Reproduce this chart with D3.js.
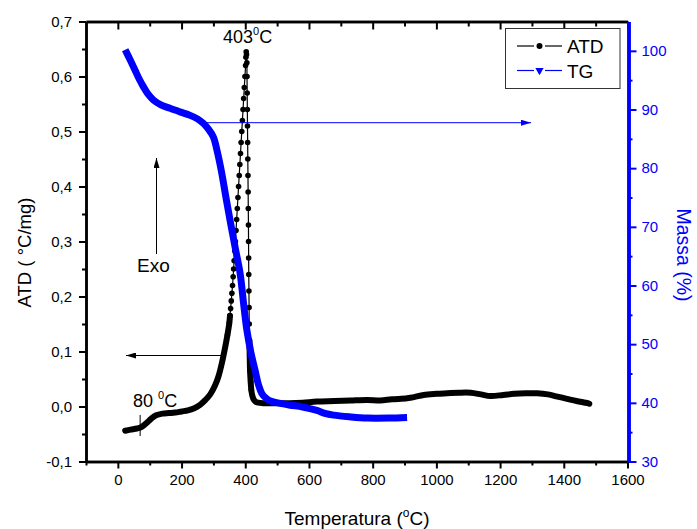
<!DOCTYPE html>
<html><head><meta charset="utf-8">
<script src="https://cdn.jsdelivr.net/npm/d3@7"></script>
<style>
body{margin:0;background:#fff;}
svg{display:block;font-family:"Liberation Sans",Arial,sans-serif;}
</style></head>
<body>
<svg id="c" width="697" height="529"></svg>
<script>
// ATD data (°C/mg) vs temperature
const atdT = [23,40,60,75,90,105,120,140,160,180,200,220,240,258,275,290,305,316,327,337,344,
  350,352,354,356,358,360,362,363.5,365,367,369,371,373,375,377,379,381,383,385,387,389,391,393,395,397,399,401,402,403,
  404,405,405.5,406,406.5,407,407.5,408,408.5,409,409.5,410,410.3,410.6,411,411.5,412,412.5,413,414,415,417,419,422,426,432,440,
  460,500,540,580,625,680,730,783,824,860,908,930,960,1000,1034,1070,1108,1140,1170,1210,1244,1280,1317,1350,1380,1410,1440,1475,1480];
const atdV = [-0.044,-0.042,-0.040,-0.037,-0.030,-0.022,-0.016,-0.013,-0.012,-0.011,-0.009,-0.007,-0.003,0.003,0.012,0.022,0.038,0.055,0.080,0.108,0.130,
  0.152,0.165,0.178,0.192,0.206,0.220,0.236,0.250,0.265,0.283,0.300,0.320,0.340,0.360,0.380,0.400,0.420,0.440,0.460,0.480,0.500,0.520,0.540,0.560,0.580,0.600,0.620,0.635,0.645,
  0.640,0.625,0.600,0.570,0.540,0.510,0.480,0.450,0.420,0.390,0.360,0.330,0.300,0.270,0.240,0.210,0.180,0.150,0.120,0.090,0.065,0.045,0.030,0.020,0.013,0.009,0.007,
  0.006,0.006,0.006,0.007,0.009,0.010,0.011,0.012,0.011,0.013,0.015,0.017,0.021,0.023,0.024,0.025,0.025,0.022,0.019,0.021,0.023,0.024,0.024,0.022,0.018,0.014,0.010,0.006,0.005];

// TG data (mass %) vs temperature
const tgT = [23,40,54,67,80,95,112,135,164,195,227,250,269,285,300,311,325,340,355,370,384,395,405,418,431,442,452,465,479,510,541,580,625,650,677,730,783,850,908];
const tgV = [100.2,98.3,96.7,95.2,93.9,92.6,91.6,90.8,90.2,89.6,89.0,88.4,87.6,86.6,85.3,83.1,79.5,74.8,70.3,66.0,62.0,56.8,52.4,48.5,45.5,43.0,41.6,40.8,40.3,39.9,39.6,39.3,38.7,38.2,37.9,37.6,37.4,37.4,37.5];

const xTicks = [0,200,400,600,800,1000,1200,1400,1600];
const xMinor = [-100,100,300,500,700,900,1100,1300,1500];
const yLTicks = [-0.1,0,0.1,0.2,0.3,0.4,0.5,0.6,0.7];
const yLMinor = [-0.05,0.05,0.15,0.25,0.35,0.45,0.55,0.65];
const yRTicks = [30,40,50,60,70,80,90,100];
const yRMinor = [35,45,55,65,75,85,95];

const seriesNames = ["ATD","TG"];
const BLUE = "#0000ff";

const svg = d3.select("#c");
const L=86, R=627.5, T=21.5, B=461.5;
const x = d3.scaleLinear([-100,1600],[L,R]);
const yL = d3.scaleLinear([-0.1,0.7],[B,T]);
const yR = d3.scaleLinear([30,105],[B,T]);

const fmtL = d => d3.format(".1f")(d).replace(".",",").replace("\u2212","-");

const atd = atdT.map((t,i)=>({t, v:atdV[i]}));
const tg = tgT.map((t,i)=>({t, v:tgV[i]}));
const lineSmooth = d3.line().x(d=>x(d.t)).y(d=>yL(d.v)).curve(d3.curveCatmullRom.alpha(0.5));
const lineStraight = d3.line().x(d=>x(d.t)).y(d=>yL(d.v));
const lineR = d3.line().x(d=>x(d.t)).y(d=>yR(d.v)).curve(d3.curveCatmullRom.alpha(0.5));

const gA = svg.append("g");
const thick = (data, gen) => gA.append("path").datum(data).attr("d",gen)
  .attr("fill","none").attr("stroke","#000").attr("stroke-width",6).attr("stroke-linecap","round").attr("stroke-linejoin","round");
thick(atd.filter(d=>d.t<=352), lineSmooth);
thick(atd.filter(d=>d.t>=413), lineSmooth);
gA.append("path").datum(atd).attr("d",lineStraight)
  .attr("fill","none").attr("stroke","#000").attr("stroke-width",1.2);
gA.selectAll("circle").data(atd.filter(d=>d.t>=340 && d.t<=420)).join("circle")
  .attr("cx",d=>x(d.t)).attr("cy",d=>yL(d.v)).attr("r",2.8).attr("fill","#000");

// TG series
svg.append("path").datum(tg).attr("d",lineR)
  .attr("fill","none").attr("stroke",BLUE).attr("stroke-width",7).attr("stroke-linejoin","round");

// Axes
function styleAxis(g, color, w){
  g.select(".domain").attr("stroke",color).attr("stroke-width",w);
  g.selectAll(".tick line").attr("stroke",color).attr("stroke-width",2);
  g.selectAll(".tick text").attr("fill",color).attr("font-size",15).attr("font-family","Liberation Sans, Arial, sans-serif");
}
const gb = svg.append("g").attr("transform",`translate(0,${B})`)
  .call(d3.axisBottom(x).tickValues(xTicks).tickSize(7).tickSizeOuter(0).tickPadding(6).tickFormat(d3.format("d")));
styleAxis(gb,"#000",2.5);
const gbm = svg.append("g").attr("transform",`translate(0,${B})`)
  .call(d3.axisBottom(x).tickValues(xMinor).tickSize(4).tickSizeOuter(0).tickFormat(""));
styleAxis(gbm,"#000",2.5);
const gt = svg.append("g").attr("transform",`translate(0,${T})`)
  .call(d3.axisBottom(x).tickValues(xTicks).tickSize(8).tickSizeOuter(0).tickFormat(""));
styleAxis(gt,"#000",2.5);
const gtm = svg.append("g").attr("transform",`translate(0,${T})`)
  .call(d3.axisBottom(x).tickValues(xMinor.filter(v=>v>-100)).tickSize(5).tickSizeOuter(0).tickFormat(""));
styleAxis(gtm,"#000",2.5);
const gl = svg.append("g").attr("transform",`translate(${L},0)`)
  .call(d3.axisLeft(yL).tickValues(yLTicks).tickSize(7).tickSizeOuter(0).tickPadding(7).tickFormat(fmtL));
styleAxis(gl,"#000",2.5);
const glm = svg.append("g").attr("transform",`translate(${L},0)`)
  .call(d3.axisLeft(yL).tickValues(yLMinor).tickSize(4).tickSizeOuter(0).tickFormat(""));
styleAxis(glm,"#000",2.5);
const gr = svg.append("g").attr("transform",`translate(${R+1},0)`)
  .call(d3.axisRight(yR).tickValues(yRTicks).tickSize(8).tickSizeOuter(0).tickPadding(5).tickFormat(d3.format("d")));
styleAxis(gr,BLUE,3.5);
const grm = svg.append("g").attr("transform",`translate(${R+1},0)`)
  .call(d3.axisRight(yR).tickValues(yRMinor).tickSize(4).tickSizeOuter(0).tickFormat(""));
styleAxis(grm,BLUE,3.5);

// Axis titles
const xt = svg.append("text").attr("x",357).attr("y",525).attr("text-anchor","middle")
  .attr("font-size",19).attr("fill","#000");
xt.append("tspan").text("Temperatura (");
xt.append("tspan").attr("font-size",12).attr("dy",-8).text("o");
xt.append("tspan").attr("dy",8).text("C)");

svg.append("text").attr("transform","translate(31,252.5) rotate(-90)").attr("text-anchor","middle")
  .attr("font-size",18.5).attr("fill","#000").text("ATD ( \u00B0C/mg)");
svg.append("text").attr("transform","translate(677,255) rotate(90)").attr("text-anchor","middle")
  .attr("font-size",19.5).attr("fill",BLUE).text("Massa (%)");

// Annotations
const a1 = svg.append("text").attr("x",223).attr("y",43).attr("font-size",18).attr("fill","#000");
a1.append("tspan").text("403");
a1.append("tspan").attr("font-size",11).attr("dy",-8).text("0");
a1.append("tspan").attr("dy",8).text("C");

const a2 = svg.append("text").attr("x",133).attr("y",407).attr("font-size",18).attr("fill","#000");
a2.append("tspan").text("80 ");
a2.append("tspan").attr("font-size",11).attr("dy",-8).text("0");
a2.append("tspan").attr("dy",8).text("C");
svg.append("line").attr("x1",x(70)).attr("x2",x(70)).attr("y1",415).attr("y2",436).attr("stroke","#000").attr("stroke-width",1);

svg.append("text").attr("x",137).attr("y",272).attr("font-size",19).attr("fill","#000").text("Exo");

const defs = svg.append("defs");
function marker(id,color){
  defs.append("marker").attr("id",id).attr("viewBox","0 0 10 6").attr("refX",10).attr("refY",3)
    .attr("markerWidth",10).attr("markerHeight",6).attr("markerUnits","userSpaceOnUse").attr("orient","auto")
    .append("path").attr("d","M0,0L10,3L0,6Z").attr("fill",color);
}
marker("ab","#000"); marker("abl",BLUE);
svg.append("line").attr("x1",156.5).attr("y1",254).attr("x2",156.5).attr("y2",158)
  .attr("stroke","#000").attr("stroke-width",1).attr("marker-end","url(#ab)");
svg.append("line").attr("x1",221).attr("y1",355.5).attr("x2",126).attr("y2",355.5)
  .attr("stroke","#000").attr("stroke-width",1).attr("marker-end","url(#ab)");
svg.append("line").attr("x1",203).attr("y1",122.7).attr("x2",531).attr("y2",122.7)
  .attr("stroke",BLUE).attr("stroke-width",1).attr("marker-end","url(#abl)");

// Legend
const lg = svg.append("g");
lg.append("rect").attr("x",505.5).attr("y",28.5).attr("width",114.5).attr("height",60)
  .attr("fill","#fff").attr("stroke","#333").attr("stroke-width",1);
const lgY = [46,70.5], lgC = ["#000",BLUE];
seriesNames.forEach((n,i)=>{
  const g = lg.append("g");
  g.append("line").attr("x1",517).attr("x2",534).attr("y1",lgY[i]).attr("y2",lgY[i]).attr("stroke",lgC[i]).attr("stroke-width",1.2);
  g.append("line").attr("x1",545).attr("x2",562).attr("y1",lgY[i]).attr("y2",lgY[i]).attr("stroke",lgC[i]).attr("stroke-width",1.2);
  if(i===0) g.append("circle").attr("cx",539.5).attr("cy",lgY[i]).attr("r",3).attr("fill","#000");
  else g.append("path").attr("d",d3.symbol(d3.symbolTriangle,30)()).attr("transform",`translate(539.5,${lgY[i]}) rotate(180)`).attr("fill",BLUE);
  g.append("text").attr("x",567).attr("y",lgY[i]+7).attr("font-size",19).attr("fill","#000").text(n);
});
</script>
</body></html>
